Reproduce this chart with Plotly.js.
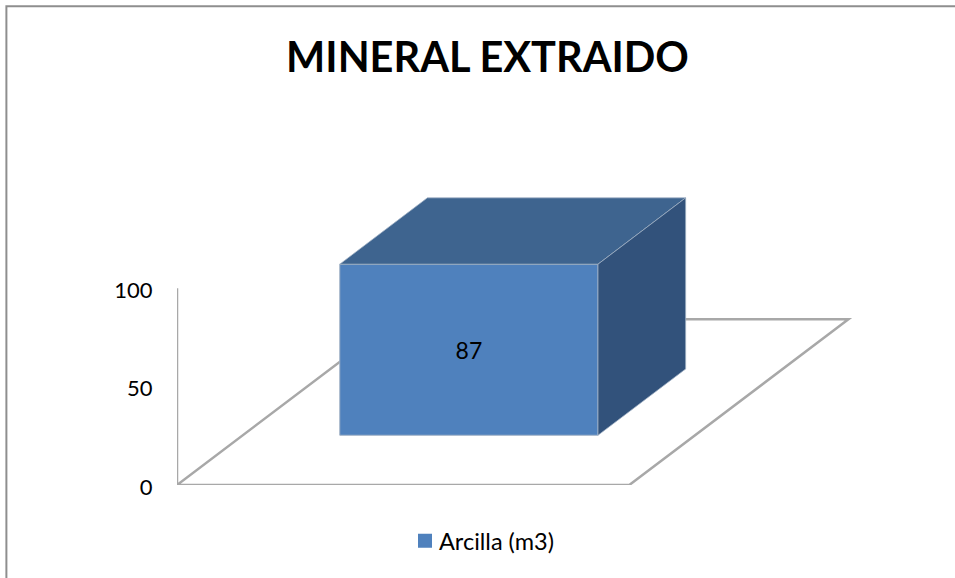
<!DOCTYPE html>
<html>
<head>
<meta charset="utf-8">
<title>Mineral extraido</title>
<script src="https://cdn.plot.ly/plotly-3.0.1.min.js"></script>
<style>
  html, body { margin: 0; padding: 0; background: #fff; }
  #chart { width: 955px; height: 578px; }
</style>
</head>
<body>
<div id="chart"></div>
<script>
// Chart content
const chartTitle = 'MINERAL EXTRAIDO';
const seriesName = 'Arcilla (m3)';
const seriesValues = [87];
const valueTicks = [0, 50, 100];

// Palette
const frontColor = '#4f81bd';
const topColor = '#3e648f';
const sideColor = '#32527b';
const floorColor = '#a8a8a8';
const frameColor = '#8e8e8e';
const edgeColor = '#a3b3c6';

// Plot box in pixels
const W = 955, H = 578;
const marginL = 177, marginB = 93;
const xMax = 1.53, yMax = 150;
const pxPerX = 452, pxPerY = 1.97;
const plotW = xMax * pxPerX, plotH = yMax * pxPerY;
const marginT = H - marginB - plotH, marginR = W - marginL - plotW;

// Oblique projection: depth 0..1 slides a point right and upward
const depthX = 0.4845, depthY = 84.3;
const project = (x, y, d) => [x + d * depthX, y + d * depthY];
const slotGap = 0.2145, depthGap = 0.3;

function facePath(points) {
  return 'M' + points.map(p => p[0] + ',' + p[1]).join('L');
}

// Pixel position on the page expressed in plot-area paper units
const paperX = px => (px - marginL) / plotW;
const paperY = py => (H - marginB - py) / plotH;

// Floor outline and value wall sit under every trace
const floor = [project(0, 0, 0), project(1, 0, 0), project(1, 0, 1), project(0, 0, 1), project(0, 0, 0)];
const shapes = [
  { type: 'path', layer: 'below', xref: 'x', yref: 'y', path: facePath(floor),
    line: { color: floorColor, width: 2.5 } },
  { type: 'line', layer: 'below', xref: 'x', yref: 'y', x0: 0, x1: 0, y0: 0, y1: valueTicks[valueTicks.length - 1],
    line: { color: floorColor, width: 2.5 } },
  // Chart area frame: left and top edges run off the page
  { type: 'path', layer: 'below', xref: 'paper', yref: 'paper',
    path: facePath([[paperX(6.5), paperY(H + 10)], [paperX(6.5), paperY(5.5)], [paperX(W + 10), paperY(5.5)]]),
    line: { color: frameColor, width: 2 } }
];

// Solid faces of the column for one value
function columnFaces(value) {
  const x0 = slotGap, x1 = 1 - slotGap;
  const d0 = depthGap, d1 = 1 - depthGap;
  const a = project(x0, value, d0), b = project(x1, value, d0);
  const c = project(x1, value, d1), e = project(x0, value, d1);
  const f = project(x1, 0, d0), g = project(x1, 0, d1);
  return {
    front: { x: project((x0 + x1) / 2, 0, d0)[0], base: f[1], width: x1 - x0 },
    top: [a, b, c, e, a],
    side: [b, c, g, f, b]
  };
}

const faces = columnFaces(seriesValues[0]);
const poly = (pts, color) => ({
  type: 'scatter', mode: 'lines', fill: 'toself', fillcolor: color,
  x: pts.map(p => p[0]), y: pts.map(p => p[1]),
  line: { color: edgeColor, width: 0.75 },
  showlegend: false, hoverinfo: 'skip'
});

const traces = [
  {
    type: 'bar', name: seriesName,
    x: [faces.front.x], y: seriesValues, base: [faces.front.base], width: [faces.front.width],
    marker: { color: frontColor, line: { color: edgeColor, width: 1 } },
    text: seriesValues.map(String), textposition: 'inside', insidetextanchor: 'middle',
    textangle: 0, constraintext: 'none',
    textfont: { family: 'Lato, sans-serif', size: 23, color: '#000' },
    showlegend: true
  },
  poly(faces.top, topColor),
  poly(faces.side, sideColor)
];

const layout = {
  width: W, height: H,
  margin: { l: marginL, r: marginR, t: marginT, b: marginB, pad: 0 },
  paper_bgcolor: '#fff', plot_bgcolor: 'rgba(0,0,0,0)',
  font: { family: 'Lato, sans-serif', color: '#000' },
  title: {
    text: chartTitle, xref: 'container', yref: 'container',
    x: 487.5 / W, xanchor: 'center', y: 1 - 57 / H, yanchor: 'middle',
    font: { family: 'Lato, sans-serif', size: 41.5, weight: 700, color: '#000' }
  },
  xaxis: { range: [0, xMax], visible: false, fixedrange: true },
  yaxis: {
    range: [0, yMax], tickmode: 'array', tickvals: valueTicks,
    showgrid: false, zeroline: false, showline: false,
    ticks: 'outside', ticklen: 19, tickcolor: 'rgba(0,0,0,0)',
    tickfont: { family: 'Lato, sans-serif', size: 22, color: '#000' },
    fixedrange: true
  },
  legend: {
    orientation: 'h', xref: 'container', yref: 'container',
    x: 405 / W, xanchor: 'left', y: 1 - 541 / H, yanchor: 'middle',
    font: { family: 'Lato, sans-serif', size: 23.5, color: '#000' },
    itemwidth: 30, bgcolor: 'rgba(0,0,0,0)'
  },
  shapes: shapes,
  showlegend: true
};

Plotly.newPlot('chart', traces, layout, { displayModeBar: false, staticPlot: true }).then(() => {
  // Tighten the legend: solid 14px swatch with the label close beside it
  const swatch = document.querySelector('.legend .legendpoints path');
  if (swatch) {
    swatch.style.stroke = frontColor;
    swatch.style.strokeWidth = '2px';
  }
  const label = document.querySelector('.legend .legendtext');
  if (label) {
    label.setAttribute('x', parseFloat(label.getAttribute('x')) - 6);
  }
  // Sit the value labels slightly lower against their tick positions
  document.querySelectorAll('.ytick text').forEach(t => {
    t.setAttribute('y', parseFloat(t.getAttribute('y')) + 2);
  });
});
</script>
</body>
</html>
